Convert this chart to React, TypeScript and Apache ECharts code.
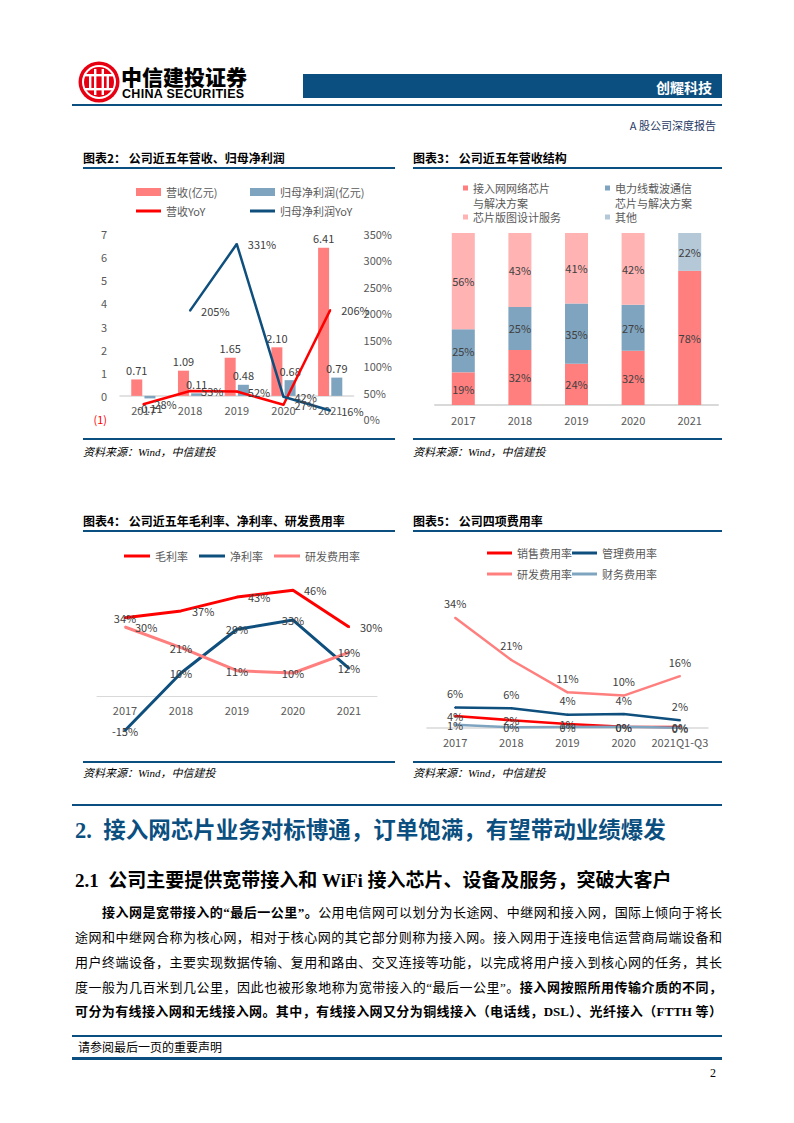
import React, { useEffect, useRef } from "react";
import * as echarts from "echarts";

const FONT = '"Noto Sans CJK SC", "Noto Sans", sans-serif';
const SERIF = '"Liberation Serif", "Noto Sans CJK SC", serif';

// ---- 图表2 data ----
const years = ["2017", "2018", "2019", "2020", "2021"];
const revenue = [0.71, 1.09, 1.65, 2.1, 6.41];
const netProfit = [-0.11, 0.11, 0.48, 0.68, 0.79];
const revenueYoY = [28, 53, 52, 27, 206];
const netProfitYoY = [null, 205, 331, 42, 16];
const leftAxisRange = [-1, 7, 1];
const rightAxisRange = [0, 350, 50];

// ---- 图表3 data ----
const accessChip = [19, 32, 24, 31.6, 78];
const plcChip = [25, 25, 35, 26.7, 0];
const layoutService = [56, 43, 41, 41.7, 0];
const otherBiz = [0, 0, 0, 0, 22];

// ---- 图表4 data ----
const grossMargin = [34, 37, 43, 46, 30];
const netMargin = [-15, 10, 29, 33, 12];
const rdRatio = [30, 21, 11, 10, 19];

// ---- 图表5 data ----
const feeYears = ["2017", "2018", "2019", "2020", "2021Q1-Q3"];
const salesFee = [3.7, 2.4, 1.2, 0.4, 0.3];
const adminFee = [6.3, 6.1, 4.1, 4.3, 2.4];
const rdFee = [34, 21, 11, 10, 16];
const financeFee = [1, 0.2, 0.3, 0.4, 0.1];

const C_RED_BAR = "#FF7F7F";
const C_BLUE_BAR = "#7FA4BF";
const C_RED = "#FF0000";
const C_NAVY = "#0E4F7E";
const C_PINK = "#FFB3B3";
const C_LIGHT = "#B4C8D7";
const BLUE = "#0B4F80";
const LBL = "#404040";
const AX = "#595959";

const pct = (p: any) => Math.round(p.value) + "%";

const legendText = { fontSize: 11, color: AX, fontFamily: FONT };

function lineSeries(name: string, data: any[], color: string, width: number, label: any, yAxisIndex = 0) {
  return {
    name,
    type: "line",
    yAxisIndex,
    data,
    symbol: "circle",
    symbolSize: 2,
    itemStyle: { color },
    lineStyle: { color, width },
    label: { show: true, color: LBL, fontSize: 11, formatter: pct, ...label },
  };
}

// x axis drawn at the zero line by shifting it up from the grid bottom
function zeroXAxis(data: string[], offset: number, margin: number, width: number) {
  return {
    type: "category",
    data,
    offset,
    axisLine: { onZero: false, lineStyle: { color: "#D9D9D9", width } },
    axisTick: { show: false },
    axisLabel: { color: AX, fontSize: 11, margin, interval: 0 },
  };
}

const lg = (extra: any) => ({ padding: 0, textStyle: legendText, ...extra });

const option2: any = {
  animation: false,
  textStyle: { fontFamily: FONT },
  legend: [
    lg({ data: ["营收(亿元)"], left: 61, top: 16.5, icon: "rect", itemWidth: 25, itemHeight: 8 }),
    lg({ data: ["归母净利润(亿元)"], left: 175, top: 16.5, icon: "rect", itemWidth: 25, itemHeight: 8 }),
    lg({ data: ["营收YoY"], left: 61, top: 35.5, icon: "rect", itemWidth: 25, itemHeight: 3 }),
    lg({ data: ["归母净利润YoY"], left: 175, top: 35.5, icon: "rect", itemWidth: 25, itemHeight: 3 }),
  ],
  grid: { left: 45, right: 37, top: 64, bottom: 19 },
  xAxis: zeroXAxis(years, -23.4, 9, 1.5),
  yAxis: [
    {
      type: "value",
      min: leftAxisRange[0],
      max: leftAxisRange[1],
      interval: leftAxisRange[2],
      splitLine: { show: false },
      axisLine: { show: false },
      axisTick: { show: false },
      axisLabel: {
        margin: 13,
        fontSize: 11,
        color: AX,
        formatter: (v: number) => (v < 0 ? `{neg|(${Math.abs(v)})}` : `${v}`),
        rich: { neg: { color: "#FF0000", fontSize: 11 } },
      },
    },
    {
      type: "value",
      position: "right",
      min: rightAxisRange[0],
      max: rightAxisRange[1],
      interval: rightAxisRange[2],
      splitLine: { show: false },
      axisLine: { show: false },
      axisTick: { show: false },
      axisLabel: { margin: 10, fontSize: 11, color: AX, formatter: "{value}%" },
    },
  ],
  series: [
    {
      name: "营收(亿元)",
      type: "bar",
      data: revenue,
      barWidth: 11,
      barGap: "20%",
      itemStyle: { color: C_RED_BAR },
      label: { show: true, position: "top", distance: 4, color: LBL, fontSize: 11, formatter: (p: any) => p.value.toFixed(2) },
    },
    {
      name: "归母净利润(亿元)",
      type: "bar",
      data: netProfit.map((v) => (v < 0 ? { value: v, label: { position: "bottom" } } : v)),
      barWidth: 11,
      itemStyle: { color: C_BLUE_BAR },
      label: { show: true, position: "top", distance: 4, color: LBL, fontSize: 11, formatter: (p: any) => p.value.toFixed(2) },
    },
    lineSeries("营收YoY", revenueYoY, C_RED, 2.5, { position: "right", distance: 10 }, 1),
    lineSeries("归母净利润YoY", netProfitYoY, C_NAVY, 2.5, { position: "right", distance: 10 }, 1),
  ],
};

const twoLineIcon = "path://M0,0L5,0L5,5L0,5Z M0,20L5,20";
const structText = { ...legendText, lineHeight: 15 };

function stackBar(name: string, data: number[], color: string) {
  return {
    name,
    type: "bar",
    stack: "total",
    data,
    barWidth: 23,
    itemStyle: { color },
    label: {
      show: true,
      position: "inside",
      color: LBL,
      fontSize: 11,
      formatter: (p: any) => (p.value > 0 ? Math.round(p.value) + "%" : ""),
    },
  };
}

const option3: any = {
  animation: false,
  textStyle: { fontFamily: FONT },
  legend: [
    lg({
      data: ["接入网网络芯片与解决方案"],
      left: 58,
      top: 10.5,
      icon: twoLineIcon,
      itemWidth: 5,
      itemHeight: 20,
      formatter: () => "接入网网络芯片\n与解决方案",
      textStyle: structText,
    }),
    lg({
      data: ["电力线载波通信芯片与解决方案"],
      left: 200,
      top: 10.5,
      icon: twoLineIcon,
      itemWidth: 5,
      itemHeight: 20,
      formatter: () => "电力线载波通信\n芯片与解决方案",
      textStyle: structText,
    }),
    lg({ data: ["芯片版图设计服务"], left: 58, top: 39.5, icon: "rect", itemWidth: 5, itemHeight: 5, textStyle: structText }),
    lg({ data: ["其他"], left: 200, top: 39.5, icon: "rect", itemWidth: 5, itemHeight: 5, textStyle: structText }),
  ],
  grid: { left: 30, right: 7, top: 63, bottom: 33 },
  xAxis: {
    type: "category",
    data: years,
    axisLine: { lineStyle: { color: "#D9D9D9", width: 2 } },
    axisTick: { show: false },
    axisLabel: { color: AX, fontSize: 11, margin: 9, interval: 0 },
  },
  yAxis: { type: "value", min: 0, max: 100, show: false },
  series: [
    stackBar("接入网网络芯片与解决方案", accessChip, C_RED_BAR),
    stackBar("电力线载波通信芯片与解决方案", plcChip, C_BLUE_BAR),
    stackBar("芯片版图设计服务", layoutService, C_PINK),
    stackBar("其他", otherBiz, C_LIGHT),
  ],
};

const option4: any = {
  animation: false,
  textStyle: { fontFamily: FONT },
  legend: lg({
    data: ["毛利率", "净利率", "研发费用率"],
    left: 49,
    top: 20.5,
    icon: "rect",
    itemWidth: 26,
    itemHeight: 3,
    itemGap: 11,
  }),
  grid: { left: 22, right: 18, top: 51, bottom: 18 },
  xAxis: zeroXAxis(years, -46, 8, 1),
  yAxis: { type: "value", min: -20, max: 50, show: false },
  series: [
    lineSeries(
      "毛利率",
      grossMargin.map((v, i) => (i === 0 ? { value: v, label: { position: "inside" } } : v)),
      C_RED,
      3,
      { position: "right", distance: 10 }
    ),
    lineSeries("净利率", netMargin, C_NAVY, 3, { position: "inside" }),
    lineSeries(
      "研发费用率",
      rdRatio.map((v, i) => (i === 0 ? { value: v, label: { position: "right", distance: 9 } } : v)),
      C_RED_BAR,
      3,
      { position: "inside" }
    ),
  ],
};

const option5: any = {
  animation: false,
  textStyle: { fontFamily: FONT },
  legend: [
    lg({ data: ["销售费用率", "管理费用率"], left: 82, top: 17.5, icon: "rect", itemWidth: 25, itemHeight: 3, itemGap: 0 }),
    lg({ data: ["研发费用率", "财务费用率"], left: 82, top: 38.5, icon: "rect", itemWidth: 25, itemHeight: 3, itemGap: 0 }),
  ],
  grid: { left: 22, right: 17, top: 68.4, bottom: 15.8 },
  xAxis: zeroXAxis(feeYears, -16.2, 8, 1.5),
  yAxis: { type: "value", min: -5, max: 40, show: false },
  series: [
    lineSeries("销售费用率", salesFee, C_RED, 2.5, { position: "inside" }),
    lineSeries("管理费用率", adminFee, C_NAVY, 2.5, { position: "top", distance: 8 }),
    lineSeries("研发费用率", rdFee, C_RED_BAR, 2.5, { position: "top", distance: 8 }),
    lineSeries("财务费用率", financeFee, C_BLUE_BAR, 2.5, { position: "inside" }),
  ],
};

function Chart({ option, left, top, width, height }: any) {
  const ref = useRef<HTMLDivElement>(null);
  useEffect(() => {
    const c = echarts.init(ref.current as HTMLDivElement, null, { renderer: "svg" });
    c.setOption(option);
    return () => c.dispose();
  }, []);
  return <div ref={ref} style={{ position: "absolute", left, top, width, height }} />;
}

function T({ x, y, size, children, style }: any) {
  const lh = Math.round(size * 1.4);
  return (
    <div
      style={{
        position: "absolute",
        left: x,
        top: y - lh / 2,
        fontSize: size,
        lineHeight: lh + "px",
        whiteSpace: "nowrap",
        fontFamily: FONT,
        color: "#000",
        ...style,
      }}
    >
      {children}
    </div>
  );
}

function HLine({ x1, x2, y, w }: any) {
  return <div style={{ position: "absolute", left: x1, top: y - w / 2, width: x2 - x1, height: w, background: BLUE }} />;
}

function ChartFrame({ x, title, titleY, bottomY, sourceY }: any) {
  return (
    <>
      <T x={x} y={titleY} size={12} style={{ fontWeight: 700 }}>
        {title}
      </T>
      <HLine x1={x} x2={x === 83 ? 395 : 722} y={titleY + 11} w={2.5} />
      <HLine x1={x} x2={x === 83 ? 395 : 722} y={bottomY} w={2} />
      <T x={x} y={sourceY} size={11} style={{ fontStyle: "italic", fontFamily: SERIF }}>
        资料来源：Wind，中信建投
      </T>
    </>
  );
}

const bodyLine = (top: number, left: number, content: any) => (
  <div
    style={{
      position: "absolute",
      left,
      top: top - 12,
      width: 722 - left,
      height: 24,
      lineHeight: "24px",
      fontSize: 13,
      fontFamily: SERIF,
      textAlign: "justify",
      textAlignLast: "justify",
      color: "#000",
    }}
  >
    {content}
  </div>
);

export default function App() {
  return (
    <div style={{ position: "absolute", left: 0, top: 0, width: 794, height: 1123, background: "#fff", overflow: "hidden" }}>
      {/* header logo */}
      <svg style={{ position: "absolute", left: 78, top: 61 }} width="42" height="42" viewBox="0 0 42 42">
        <circle cx="21" cy="21" r="20.5" fill="#E60012" />
        <circle cx="21" cy="21" r="17" fill="#fff" />
        <circle cx="21" cy="21" r="15" fill="#E60012" />
        <rect x="7" y="13" width="28" height="2.4" fill="#fff" />
        <rect x="7" y="27" width="28" height="2.4" fill="#fff" />
        <rect x="11" y="13" width="2.4" height="16" fill="#fff" />
        <rect x="28.6" y="13" width="2.4" height="16" fill="#fff" />
        <rect x="16" y="8" width="2.4" height="26" fill="#fff" />
        <rect x="23.6" y="8" width="2.4" height="26" fill="#fff" />
      </svg>
      <T x={121} y={76} size={21} style={{ fontWeight: 900, letterSpacing: 0 }}>
        中信建投证券
      </T>
      <T x={122} y={94} size={12.5} style={{ fontWeight: 700, fontFamily: '"Liberation Sans", Arial, sans-serif', letterSpacing: 0.3 }}>
        CHINA SECURITIES
      </T>
      <div style={{ position: "absolute", left: 303, top: 74, width: 419, height: 24, background: BLUE }} />
      <T x={0} y={87} size={14} style={{ left: "auto", right: 794 - 712, color: "#fff", fontWeight: 700 }}>
        创耀科技
      </T>
      <HLine x1={72} x2={722} y={105} w={2.5} />
      <T x={0} y={125} size={11} style={{ left: "auto", right: 794 - 716, color: "#1F3864" }}>
        A 股公司深度报告
      </T>

      {/* chart frames */}
      <ChartFrame x={83} title="图表2：   公司近五年营收、归母净利润" titleY={157} bottomY={439} sourceY={452} />
      <ChartFrame x={413} title="图表3：   公司近五年营收结构" titleY={157} bottomY={439} sourceY={452} />
      <ChartFrame x={83} title="图表4：   公司近五年毛利率、净利率、研发费用率" titleY={520} bottomY={762} sourceY={773} />
      <ChartFrame x={413} title="图表5：   公司四项费用率" titleY={520} bottomY={762} sourceY={773} />

      <Chart option={option2} left={75} top={170} width={320} height={268} />
      <Chart option={option3} left={405} top={170} width={320} height={268} />
      <Chart option={option4} left={75} top={530} width={320} height={230} />
      <Chart option={option5} left={405} top={530} width={320} height={230} />

      {/* section */}
      <HLine x1={72} x2={722} y={805} w={2.5} />
      <T x={75} y={830} size={22.5} style={{ fontWeight: 700, color: BLUE, fontFamily: SERIF }}>
        2.&nbsp;&nbsp;接入网芯片业务对标博通，订单饱满，有望带动业绩爆发
      </T>
      <T x={75} y={880} size={19} style={{ fontWeight: 700, fontFamily: SERIF }}>
        2.1&nbsp;&nbsp;公司主要提供宽带接入和 WiFi 接入芯片、设备及服务，突破大客户
      </T>

      {bodyLine(913, 102, (
        <>
          <b>接入网是宽带接入的“最后一公里”。</b>公用电信网可以划分为长途网、中继网和接入网，国际上倾向于将长
        </>
      ))}
      {bodyLine(938, 75, "途网和中继网合称为核心网，相对于核心网的其它部分则称为接入网。接入网用于连接电信运营商局端设备和")}
      {bodyLine(963, 75, "用户终端设备，主要实现数据传输、复用和路由、交叉连接等功能，以完成将用户接入到核心网的任务，其长")}
      {bodyLine(988, 75, (
        <>
          度一般为几百米到几公里，因此也被形象地称为宽带接入的“最后一公里”。<b>接入网按照所用传输介质的不同，</b>
        </>
      ))}
      {bodyLine(1012, 75, <b>可分为有线接入网和无线接入网。其中，有线接入网又分为铜线接入（电话线，DSL）、光纤接入（FTTH 等）</b>)}

      {/* footer */}
      <HLine x1={72} x2={722} y={1036} w={2} />
      <T x={78} y={1048} size={12} style={{ fontFamily: SERIF }}>
        请参阅最后一页的重要声明
      </T>
      <HLine x1={72} x2={722} y={1058} w={3} />
      <T x={710} y={1073} size={12} style={{ fontFamily: SERIF }}>
        2
      </T>
    </div>
  );
}
